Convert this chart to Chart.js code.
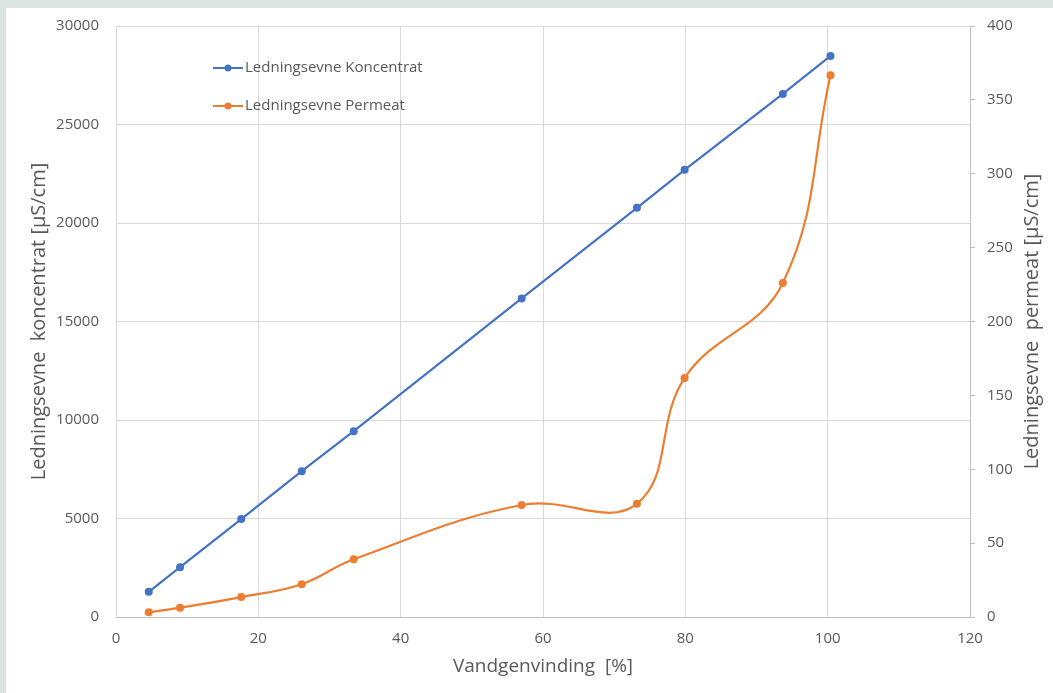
<!DOCTYPE html>
<html>
<head>
<meta charset="utf-8">
<script src="https://cdn.jsdelivr.net/npm/chart.js@4.4.1/dist/chart.umd.min.js"></script>
<style>
  html, body { margin: 0; padding: 0; background: #dbe4de; }
  #panel { position: absolute; left: 6px; top: 8px; width: 1047px; height: 685px; background: #fff; }
  #wrap { position: absolute; left: 0; top: 0; width: 1053px; height: 693px; }
</style>
</head>
<body>
<div id="panel"></div>
<div id="wrap"><canvas id="chart"></canvas></div>
<script>
// data
const recovery = [4.6, 9.0, 17.6, 26.1, 33.4, 57.0, 73.2, 79.9, 93.7, 100.4];
const concentrat = [1280, 2530, 4970, 7400, 9430, 16170, 20770, 22700, 26550, 28480];
const permeat = [3.2, 6.3, 13.5, 22.2, 39.1, 75.8, 76.6, 161.8, 226.1, 366.7];

const xTicks = [0, 20, 40, 60, 80, 100, 120];
const leftTicks = [0, 5000, 10000, 15000, 20000, 25000, 30000];
const rightTicks = [0, 50, 100, 150, 200, 250, 300, 350, 400];

const seriesNames = ['Ledningsevne Koncentrat', 'Ledningsevne Permeat'];
const xTitle = 'Vandgenvinding  [%]';
const leftTitle = 'Ledningsevne  koncentrat [µS/cm]';
const rightTitle = 'Ledningsevne  permeat [µS/cm]';

const BLUE = '#4472c4';
const ORANGE = '#ed7d31';
const TXT = '#595959';
const FONT = '"Open Sans", "Noto Sans", sans-serif';

function pts(ys) {
    return recovery.map((x, i) => ({ x: x, y: ys[i] }));
}

// titles drawn by hand so both vertical ones read bottom-to-top
const titlesPlugin = {
    id: 'titles',
    afterDraw(chart) {
        const ctx = chart.ctx;
        const a = chart.chartArea;
        ctx.save();
        ctx.fillStyle = TXT;
        ctx.font = '19px ' + FONT;
        ctx.textAlign = 'center';
        ctx.textBaseline = 'middle';
        ctx.fillText(xTitle, (a.left + a.right) / 2, 667);

        ctx.font = '20px ' + FONT;
        ctx.translate(39, (a.top + a.bottom) / 2);
        ctx.rotate(-Math.PI / 2);
        ctx.fillText(leftTitle, 0, 0);
        ctx.restore();

        ctx.save();
        ctx.fillStyle = TXT;
        ctx.font = '20px ' + FONT;
        ctx.textAlign = 'center';
        ctx.textBaseline = 'middle';
        ctx.translate(1032, (a.top + a.bottom) / 2);
        ctx.rotate(-Math.PI / 2);
        ctx.fillText(rightTitle, 0, 0);
        ctx.restore();
    }
};

// legend sits inside the plot area
const legendPlugin = {
    id: 'innerLegend',
    afterDraw(chart) {
        const ctx = chart.ctx;
        const colors = [BLUE, ORANGE];
        const rows = [68, 106];
        ctx.save();
        ctx.font = '15px ' + FONT;
        ctx.textBaseline = 'middle';
        ctx.textAlign = 'left';
        seriesNames.forEach((name, i) => {
            const y = rows[i];
            ctx.strokeStyle = colors[i];
            ctx.lineWidth = 2;
            ctx.beginPath();
            ctx.moveTo(213, y);
            ctx.lineTo(243, y);
            ctx.stroke();
            ctx.fillStyle = colors[i];
            ctx.beginPath();
            ctx.arc(228, y, 3.5, 0, Math.PI * 2);
            ctx.fill();
            ctx.fillStyle = TXT;
            ctx.fillText(name, 245, y);
        });
        ctx.restore();
    }
};

new Chart(document.getElementById('chart'), {
    type: 'line',
    data: {
        datasets: [{
            label: seriesNames[0],
            data: pts(concentrat),
            yAxisID: 'y',
            borderColor: BLUE,
            backgroundColor: BLUE,
            borderWidth: 2.2,
            pointRadius: 4,
            pointBorderWidth: 0,
            tension: 0
        }, {
            label: seriesNames[1],
            data: pts(permeat),
            yAxisID: 'y2',
            borderColor: ORANGE,
            backgroundColor: ORANGE,
            borderWidth: 2.2,
            pointRadius: 4,
            pointBorderWidth: 0,
            tension: 0.4
        }]
    },
    options: {
        responsive: true,
        maintainAspectRatio: false,
        animation: false,
        layout: { padding: { top: 25, left: 0, right: 0, bottom: 0 } },
        plugins: { legend: { display: false }, tooltip: { enabled: false } },
        scales: {
            x: {
                type: 'linear',
                min: 0, max: 120,
                afterBuildTicks: s => { s.ticks = xTicks.map(v => ({ value: v })); },
                afterFit: s => { s.height = 76; },
                grid: { color: '#d9d9d9', drawTicks: false },
                border: { color: '#bfbfbf' },
                ticks: { color: TXT, font: { family: FONT, size: 15 }, padding: 13 }
            },
            y: {
                position: 'left',
                min: 0, max: 30000,
                afterBuildTicks: s => { s.ticks = leftTicks.map(v => ({ value: v })); },
                afterFit: s => { s.width = 116; },
                grid: { color: '#d9d9d9', drawTicks: false },
                border: { color: '#d9d9d9' },
                ticks: { color: TXT, font: { family: FONT, size: 15 }, padding: 17, callback: v => String(v) }
            },
            y2: {
                position: 'right',
                min: 0, max: 400,
                afterBuildTicks: s => { s.ticks = rightTicks.map(v => ({ value: v })); },
                afterFit: s => { s.width = 83; },
                grid: { drawOnChartArea: false, color: '#bfbfbf', tickLength: 5 },
                border: { color: '#bfbfbf' },
                ticks: { color: TXT, font: { family: FONT, size: 15 }, padding: 12, callback: v => String(v) }
            }
        }
    },
    plugins: [titlesPlugin, legendPlugin]
});
</script>
</body>
</html>
